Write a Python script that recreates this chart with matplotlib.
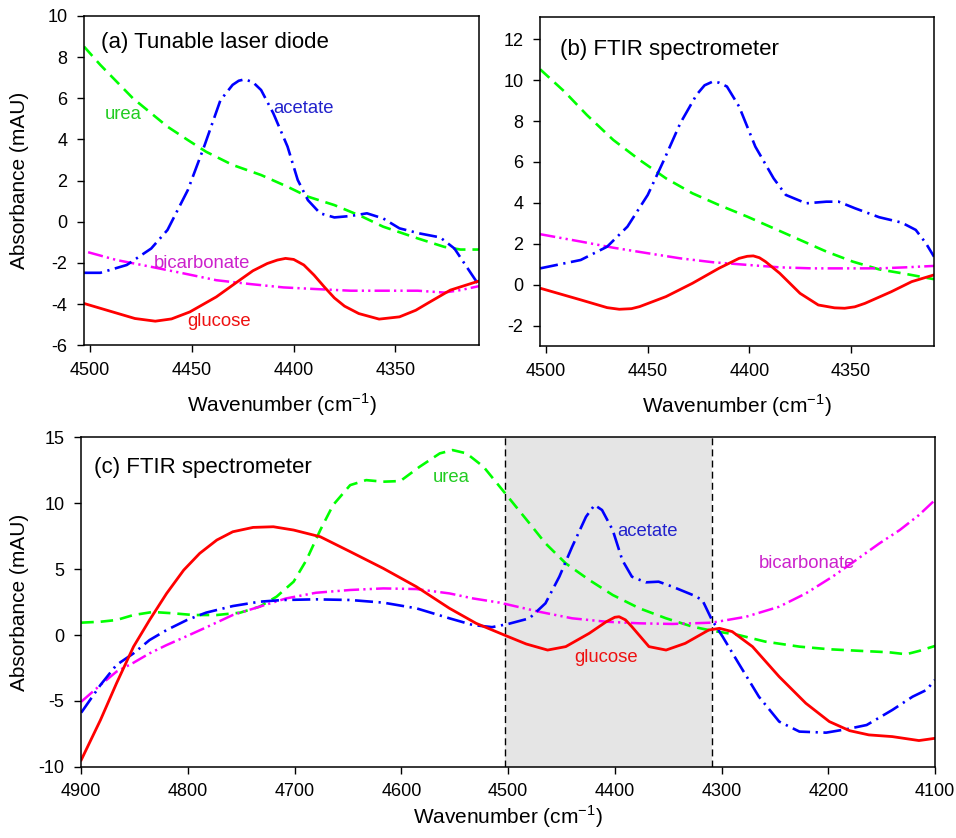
"""Absorbance spectra of glucose, urea, acetate and bicarbonate: laser diode vs FTIR."""

import matplotlib
import matplotlib.pyplot as plt

matplotlib.use("Agg")

plt.rcParams["font.family"] = ["Liberation Sans", "DejaVu Sans"]
plt.rcParams["axes.unicode_minus"] = False
plt.rcParams["lines.scale_dashes"] = False
plt.rcParams["mathtext.fontset"] = "custom"
plt.rcParams["mathtext.rm"] = "Liberation Sans"

# --- (a) tunable laser diode ---
a_glu_x = [4503, 4490, 4478, 4468, 4460, 4451, 4438, 4426, 4420, 4413, 4408, 4404, 4400, 4395, 4390, 4385,
           4380, 4375, 4368, 4358, 4348, 4340, 4334, 4323, 4309]
a_glu_y = [-3.97, -4.35, -4.7, -4.83, -4.72, -4.38, -3.65, -2.8, -2.38, -2.03, -1.86, -1.78, -1.83, -2.1, -2.59, -3.16,
           -3.7, -4.1, -4.46, -4.73, -4.62, -4.3, -3.95, -3.32, -2.88]

a_ace_x = [4503, 4495, 4482, 4470, 4462, 4452, 4444, 4436, 4430, 4427, 4424, 4420, 4416, 4410, 4403, 4398,
           4393, 4387, 4380, 4372, 4364, 4356, 4348, 4338, 4328, 4321, 4315, 4309]
a_ace_y = [-2.48, -2.48, -2.1, -1.3, -0.4, 1.54, 3.65, 5.9, 6.65, 6.85, 6.92, 6.78, 6.4, 5.27, 3.65, 2.03,
           1.05, 0.41, 0.21, 0.28, 0.41, 0.16, -0.32, -0.57, -0.76, -1.3, -2.19, -3.08]

a_urea_x = [4503, 4495, 4487, 4479, 4470, 4462, 4452, 4443, 4430, 4416, 4403, 4393, 4380, 4367, 4356, 4339, 4326, 4318, 4309]
a_urea_y = [8.51, 7.62, 6.81, 6.0, 5.27, 4.62, 3.97, 3.4, 2.76, 2.27, 1.7, 1.22, 0.81, 0.28, -0.24, -0.81, -1.22, -1.35, -1.35]

a_bic_x = [4501, 4487, 4470, 4454, 4438, 4421, 4405, 4389, 4372, 4356, 4339, 4326, 4318, 4309]
a_bic_y = [-1.48, -1.86, -2.19, -2.51, -2.84, -3.03, -3.19, -3.27, -3.35, -3.35, -3.35, -3.44, -3.32, -3.13]

# --- (b) FTIR, same window ---
b_glu_x = [4503, 4483, 4470, 4464, 4458, 4454, 4441, 4428, 4415, 4405, 4401, 4398, 4395, 4392, 4385, 4375,
           4366, 4358, 4353, 4348, 4343, 4330, 4320, 4309]
b_glu_y = [-0.17, -0.74, -1.12, -1.2, -1.17, -1.07, -0.58, 0.07, 0.8, 1.29, 1.39, 1.41, 1.32, 1.13, 0.56, -0.42,
           -0.99, -1.13, -1.15, -1.08, -0.91, -0.34, 0.15, 0.48]

b_ace_x = [4503, 4483, 4470, 4460, 4450, 4442, 4434, 4426, 4422, 4418, 4415, 4411, 4405, 4397, 4388, 4382,
           4372, 4362, 4356, 4348, 4336, 4325, 4318, 4313, 4309]
b_ace_y = [0.8, 1.21, 1.86, 2.84, 4.39, 6.1, 7.89, 9.28, 9.75, 9.93, 9.88, 9.69, 8.71, 6.75, 5.2, 4.39,
           3.98, 4.06, 4.06, 3.74, 3.3, 3.04, 2.68, 2.03, 1.37]

b_urea_x = [4503, 4491, 4480, 4467, 4454, 4441, 4428, 4415, 4401, 4388, 4375, 4362, 4349, 4336, 4323, 4309]
b_urea_y = [10.53, 9.44, 8.3, 7.08, 6.1, 5.2, 4.47, 3.9, 3.33, 2.76, 2.19, 1.62, 1.13, 0.75, 0.53, 0.27]

b_bic_x = [4503, 4483, 4467, 4450, 4434, 4418, 4401, 4385, 4369, 4352, 4336, 4323, 4309]
b_bic_y = [2.47, 2.11, 1.81, 1.54, 1.29, 1.1, 0.97, 0.85, 0.8, 0.8, 0.8, 0.85, 0.92]

# --- (c) FTIR, full range ---
c_glu_x = [4900, 4882, 4867, 4851, 4836, 4820, 4804, 4789, 4773, 4758, 4739, 4720, 4701, 4676, 4648, 4617,
           4586, 4555, 4530, 4500, 4483, 4463, 4446, 4424, 4408, 4400, 4396, 4390, 4384, 4368, 4352, 4334,
           4312, 4302, 4290, 4271, 4246, 4221, 4199, 4180, 4162, 4140, 4115, 4100]
c_glu_y = [-9.48, -6.45, -3.67, -0.88, 1.14, 3.16, 4.93, 6.2, 7.21, 7.84, 8.17, 8.22, 7.97, 7.46, 6.33, 5.06,
           3.67, 2.03, 0.89, -0.12, -0.68, -1.14, -0.88, 0.13, 1.01, 1.35, 1.39, 1.15, 0.63, -0.88, -1.14, -0.63,
           0.38, 0.51, 0.26, -0.88, -3.16, -5.18, -6.57, -7.26, -7.58, -7.71, -8.01, -7.84]

c_ace_x = [4900, 4882, 4867, 4851, 4836, 4820, 4801, 4783, 4758, 4733, 4711, 4680, 4648, 4617, 4586, 4555,
           4533, 4515, 4500, 4480, 4465, 4452, 4440, 4427, 4419, 4412, 4402, 4393, 4384, 4371, 4359, 4346,
           4327, 4318, 4309, 4299, 4284, 4265, 4246, 4227, 4202, 4183, 4164, 4140, 4121, 4108, 4100]
c_ace_y = [-5.89, -3.79, -2.27, -1.39, -0.38, 0.38, 1.14, 1.7, 2.2, 2.53, 2.66, 2.71, 2.66, 2.46, 2.03, 1.27,
           0.76, 0.6, 0.84, 1.27, 2.41, 4.43, 6.7, 8.98, 9.87, 9.49, 7.97, 5.69, 4.43, 4.0, 4.05, 3.67,
           3.04, 2.66, 1.14, -0.12, -2.15, -4.68, -6.57, -7.33, -7.41, -7.15, -6.83, -5.69, -4.68, -4.17, -3.41]

c_urea_x = [4900, 4882, 4867, 4851, 4833, 4814, 4795, 4773, 4751, 4733, 4717, 4701, 4689, 4676, 4664, 4648,
            4633, 4617, 4601, 4583, 4564, 4552, 4539, 4523, 4504, 4480, 4465, 4446, 4424, 4402, 4377, 4352,
            4327, 4309, 4284, 4259, 4227, 4199, 4168, 4143, 4127, 4115, 4100]
c_urea_y = [0.94, 1.01, 1.14, 1.52, 1.75, 1.65, 1.52, 1.52, 1.7, 2.15, 2.91, 4.05, 5.69, 7.97, 9.87, 11.38,
            11.76, 11.64, 11.69, 12.77, 13.79, 14.04, 13.79, 12.77, 10.88, 8.48, 6.96, 5.44, 4.18, 3.04, 2.03, 1.27,
            0.63, 0.33, 0.0, -0.5, -0.88, -1.08, -1.21, -1.31, -1.46, -1.21, -0.83]

c_bic_x = [4900, 4882, 4867, 4851, 4836, 4820, 4801, 4783, 4758, 4733, 4708, 4680, 4648, 4617, 4586, 4555,
           4533, 4508, 4471, 4440, 4408, 4377, 4346, 4309, 4277, 4246, 4221, 4196, 4174, 4152, 4133, 4115, 4100]
c_bic_y = [-5.06, -3.79, -2.78, -2.1, -1.39, -0.76, -0.08, 0.58, 1.52, 2.15, 2.78, 3.21, 3.42, 3.54, 3.49, 3.16,
           2.78, 2.46, 1.77, 1.27, 1.01, 0.89, 0.84, 0.94, 1.39, 2.15, 3.16, 4.43, 5.69, 6.96, 7.97, 9.11, 10.25]

window = (4503, 4309)

RED, GREEN, BLUE, MAGENTA = "#ff0000", "#00ff00", "#0000ff", "#ff00ff"
DASH = (0, (9, 5))
DASHDOT = (0, (13, 4, 1.6, 4))
DASHDOTDOT = (0, (11, 3, 1.6, 3, 1.6, 3))
XLABEL = "Wavenumber (cm$^{\\mathrm{-1}}$)"


def draw_curves(ax, glu, ace, urea, bic):
    ax.plot(*urea, color=GREEN, lw=1.9, linestyle=DASH)
    ax.plot(*bic, color=MAGENTA, lw=1.8, linestyle=DASHDOTDOT)
    ax.plot(*ace, color=BLUE, lw=1.9, linestyle=DASHDOT)
    ax.plot(*glu, color=RED, lw=2.0)


def style(ax, xlabelpad):
    ax.tick_params(direction="out", length=5, width=1, labelsize=13, pad=7)
    for s in ax.spines.values():
        s.set_linewidth(1.1)
    ax.set_xlabel(XLABEL, fontsize=15, labelpad=xlabelpad)


fig = plt.figure(figsize=(9.56, 8.38), dpi=100)

# (a)
ax = fig.add_axes([0.0879, 0.588, 0.413, 0.393])
draw_curves(ax, (a_glu_x, a_glu_y), (a_ace_x, a_ace_y), (a_urea_x, a_urea_y), (a_bic_x, a_bic_y))
ax.set_xlim(*window)
ax.set_ylim(-6, 10)
ax.set_xticks([4500, 4450, 4400, 4350])
ax.set_yticks(range(-6, 11, 2))
ax.set_ylabel("Absorbance (mAU)", fontsize=15)
ax.yaxis.set_label_coords(-0.139, 0.5)
style(ax, 9)
ax.text(0.043, 0.92, "(a) Tunable laser diode", transform=ax.transAxes, fontsize=16, va="center")
ax.text(4492.6, 5.19, "urea", color="#22cc22", fontsize=13.3, va="center")
ax.text(4409.8, 5.51, "acetate", color="#2222cc", fontsize=13.3, va="center")
ax.text(4468.5, -2.03, "bicarbonate", color="#cc22cc", fontsize=13.3, va="center")
ax.text(4452.5, -4.86, "glucose", color="#ee1111", fontsize=13.3, va="center")

# (b)
ax = fig.add_axes([0.565, 0.587, 0.412, 0.393])
draw_curves(ax, (b_glu_x, b_glu_y), (b_ace_x, b_ace_y), (b_urea_x, b_urea_y), (b_bic_x, b_bic_y))
ax.set_xlim(*window)
ax.set_ylim(-3, 13.1)
ax.set_xticks([4500, 4450, 4400, 4350])
ax.set_yticks(range(-2, 13, 2))
style(ax, 9)
ax.text(0.05, 0.9, "(b) FTIR spectrometer", transform=ax.transAxes, fontsize=16, va="center")

# (c)
ax = fig.add_axes([0.085, 0.085, 0.893, 0.393])
ax.axvspan(*window, color="#e5e5e5", zorder=0, lw=0)
for w in window:
    ax.axvline(w, color="black", lw=1, linestyle=(0, (5, 3)), zorder=1)
draw_curves(ax, (c_glu_x, c_glu_y), (c_ace_x, c_ace_y), (c_urea_x, c_urea_y), (c_bic_x, c_bic_y))
ax.set_xlim(4900, 4100)
ax.set_ylim(-10, 15)
ax.set_xticks(range(4900, 4099, -100))
ax.set_yticks(range(-10, 16, 5))
ax.set_ylabel("Absorbance (mAU)", fontsize=15)
ax.yaxis.set_label_coords(-0.0612, 0.5)
style(ax, 2)
ax.text(0.015, 0.91, "(c) FTIR spectrometer", transform=ax.transAxes, fontsize=16, va="center")
ax.text(4570.9, 11.97, "urea", color="#22cc22", fontsize=13.3, va="center")
ax.text(4397.6, 7.89, "acetate", color="#2222cc", fontsize=13.3, va="center")
ax.text(4265.5, 5.44, "bicarbonate", color="#cc22cc", fontsize=13.3, va="center")
ax.text(4438.2, -1.69, "glucose", color="#ee1111", fontsize=13.3, va="center")

fig.savefig("out.png", dpi=100)
plt.close(fig)
